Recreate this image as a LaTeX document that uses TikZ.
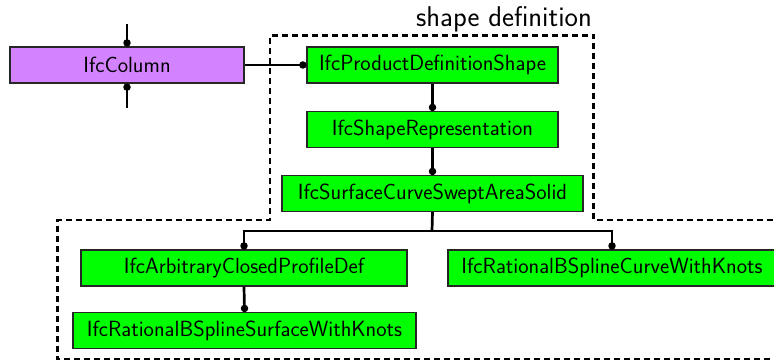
\documentclass[tikz,border=0pt]{standalone}
\definecolor{entpurple}{RGB}{211,131,255}
\definecolor{entgreen}{RGB}{0,255,0}
\begin{document}
\begin{tikzpicture}[x=1pt,y=-1pt,
  ent/.style={draw=black!85, line width=1.2pt, fill=entgreen, minimum height=36pt,
              inner sep=0pt, font=\fontsize{22}{26}\selectfont\sffamily},
  link/.style={line width=2.7pt},
  dot/.style={circle, fill=black, inner sep=0pt, minimum size=7.5pt},
  group/.style={line width=2.7pt, dash pattern=on 6pt off 4pt}]
\useasboundingbox (0,0) rectangle (774,361);
\clip (0,0) rectangle (774,361);

% entities
\node[ent, fill=entpurple, minimum width=234pt] (col) at (127,65) {IfcColumn};
\node[ent, minimum width=251pt] (pds) at (432.5,65) {IfcProductDefinitionShape};
\node[ent, minimum width=251pt] (sr)  at (432.5,129.5) {IfcShapeRepresentation};
\node[ent, minimum width=301pt] (scs) at (432.5,193.5) {IfcSurfaceCurveSweptAreaSolid};
\node[ent, minimum width=326pt] (acp) at (244,268) {IfcArbitraryClosedProfileDef};
\node[ent, minimum width=343pt] (rbs) at (244.5,330.5) {IfcRationalBSplineSurfaceWithKnots};
\node[ent, minimum width=328pt] (rbc) at (612,268) {IfcRationalBSplineCurveWithKnots};

% group outline and its label
\draw[group] (780,359) -- (57.5,359) -- (57.5,220) -- (270,220) -- (270,35.5)
  -- (593.5,35.5) -- (593.5,220) -- (780,220);
\node[anchor=base east, inner sep=0pt, font=\fontsize{28.5}{33}\selectfont\sffamily]
  (lbl) at (592,27) {shape definition};

% free ends of the column's outer links
\coordinate (ctop) at (127,24);
\coordinate (cbot) at (127,108);
\coordinate (bus) at (432,231);

% connectors
\draw[link] (ctop) -- (col.north);
\draw[link] (col.south) -- (cbot);
\draw[link] (col.east) -- (pds.west);
\draw[link] (pds.south) -- (sr.north);
\draw[link] (sr.south) -- (scs.north);
\draw[link] (scs.south) -- (bus);
\draw[link] (acp.north) -- (acp.north |- bus) -- (rbc.north |- bus) -- (rbc.north);
\draw[link] (acp.south) -- (rbs.north);

% end dots
\node[dot] (d1) at ([yshift=3.5pt]col.north) {};
\node[dot] (d2) at ([yshift=-3.5pt]col.south) {};
\node[dot] (d3) at ([xshift=-3.5pt]pds.west) {};
\node[dot] (d4) at ([yshift=3.5pt]sr.north) {};
\node[dot] (d5) at ([yshift=3.5pt]scs.north) {};
\node[dot] (d6) at ([yshift=3.5pt]acp.north) {};
\node[dot] (d7) at ([yshift=3.5pt]rbc.north) {};
\node[dot] (d8) at ([yshift=3.5pt]rbs.north) {};
\end{tikzpicture}
\end{document}
